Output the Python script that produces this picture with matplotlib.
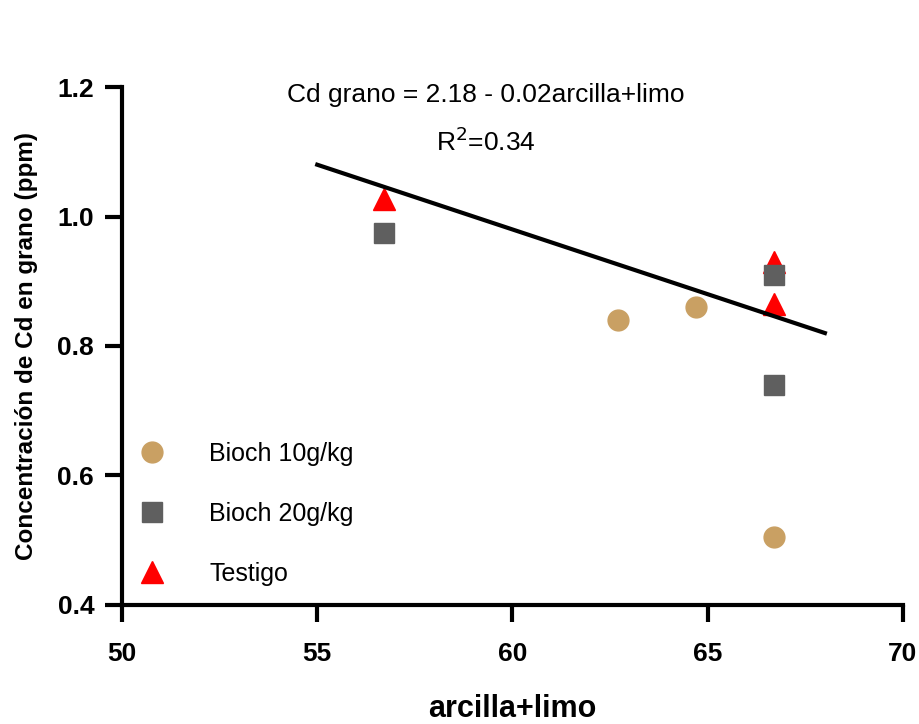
import matplotlib
matplotlib.use("Agg")
import matplotlib.pyplot as plt
import numpy as np

plt.rcParams['font.family'] = ['Liberation Sans', 'DejaVu Sans']

# datos
x_bioch10 = [62.7, 64.7, 66.7]
y_bioch10 = [0.84, 0.86, 0.505]

x_bioch20 = [56.7, 66.7, 66.7]
y_bioch20 = [0.975, 0.91, 0.74]

x_testigo = [56.7, 66.7, 66.7]
y_testigo = [1.027, 0.93, 0.865]

# recta de regresion
intercepto = 2.18
pendiente = -0.02
x_recta = np.array([55, 68])

fig = plt.figure(figsize=(9.2, 7.24), dpi=100)
ax = fig.add_axes([0.1326, 0.1644, 0.8489, 0.7154])

ax.plot(x_testigo, y_testigo, linestyle='none', marker='^', color='#FF0000',
        markersize=15.5, label='Testigo', zorder=3)
ax.plot(x_bioch20, y_bioch20, linestyle='none', marker='s', color='#5F5F5F',
        markersize=15, label='Bioch 20g/kg', zorder=4)
ax.plot(x_bioch10, y_bioch10, linestyle='none', marker='o', color='#C9A063',
        markersize=15, label='Bioch 10g/kg', zorder=4)
ax.plot(x_recta, intercepto + pendiente * x_recta, color='black', linewidth=3, zorder=5)

ax.set_xlim(50, 70)
ax.set_ylim(0.4, 1.2)
ax.set_xticks([50, 55, 60, 65, 70])
ax.set_yticks([0.4, 0.6, 0.8, 1.0, 1.2])
ax.set_yticklabels(['0.4', '0.6', '0.8', '1.0', '1.2'])

for s in ['top', 'right']:
    ax.spines[s].set_visible(False)
for s in ['left', 'bottom']:
    ax.spines[s].set_linewidth(3)
ax.tick_params(width=3, length=12, labelsize=19)
ax.tick_params(axis='x', pad=15)
ax.tick_params(axis='y', pad=8)
for lab in ax.get_xticklabels() + ax.get_yticklabels():
    lab.set_fontweight('bold')

ax.set_xlabel('arcilla+limo', fontsize=22, fontweight='bold', labelpad=20)
ax.set_ylabel('Concentración de Cd en grano (ppm)', fontsize=17.5,
              fontweight='bold', labelpad=14)

ax.text(0.466, 0.985, 'Cd grano = 2.18 - 0.02arcilla+limo', transform=ax.transAxes,
        fontsize=19, ha='center', va='center')
ax.text(0.466, 0.895, 'R$^2$=0.34', transform=ax.transAxes,
        fontsize=19, ha='center', va='center')

handles, labels = ax.get_legend_handles_labels()
order = [2, 1, 0]
ax.legend([handles[i] for i in order], [labels[i] for i in order],
          loc='lower left', bbox_to_anchor=(-0.0064, 0.017), frameon=False,
          fontsize=18, handletextpad=1.3, labelspacing=1.45,
          borderaxespad=0)

fig.savefig('out.png', dpi=100)
